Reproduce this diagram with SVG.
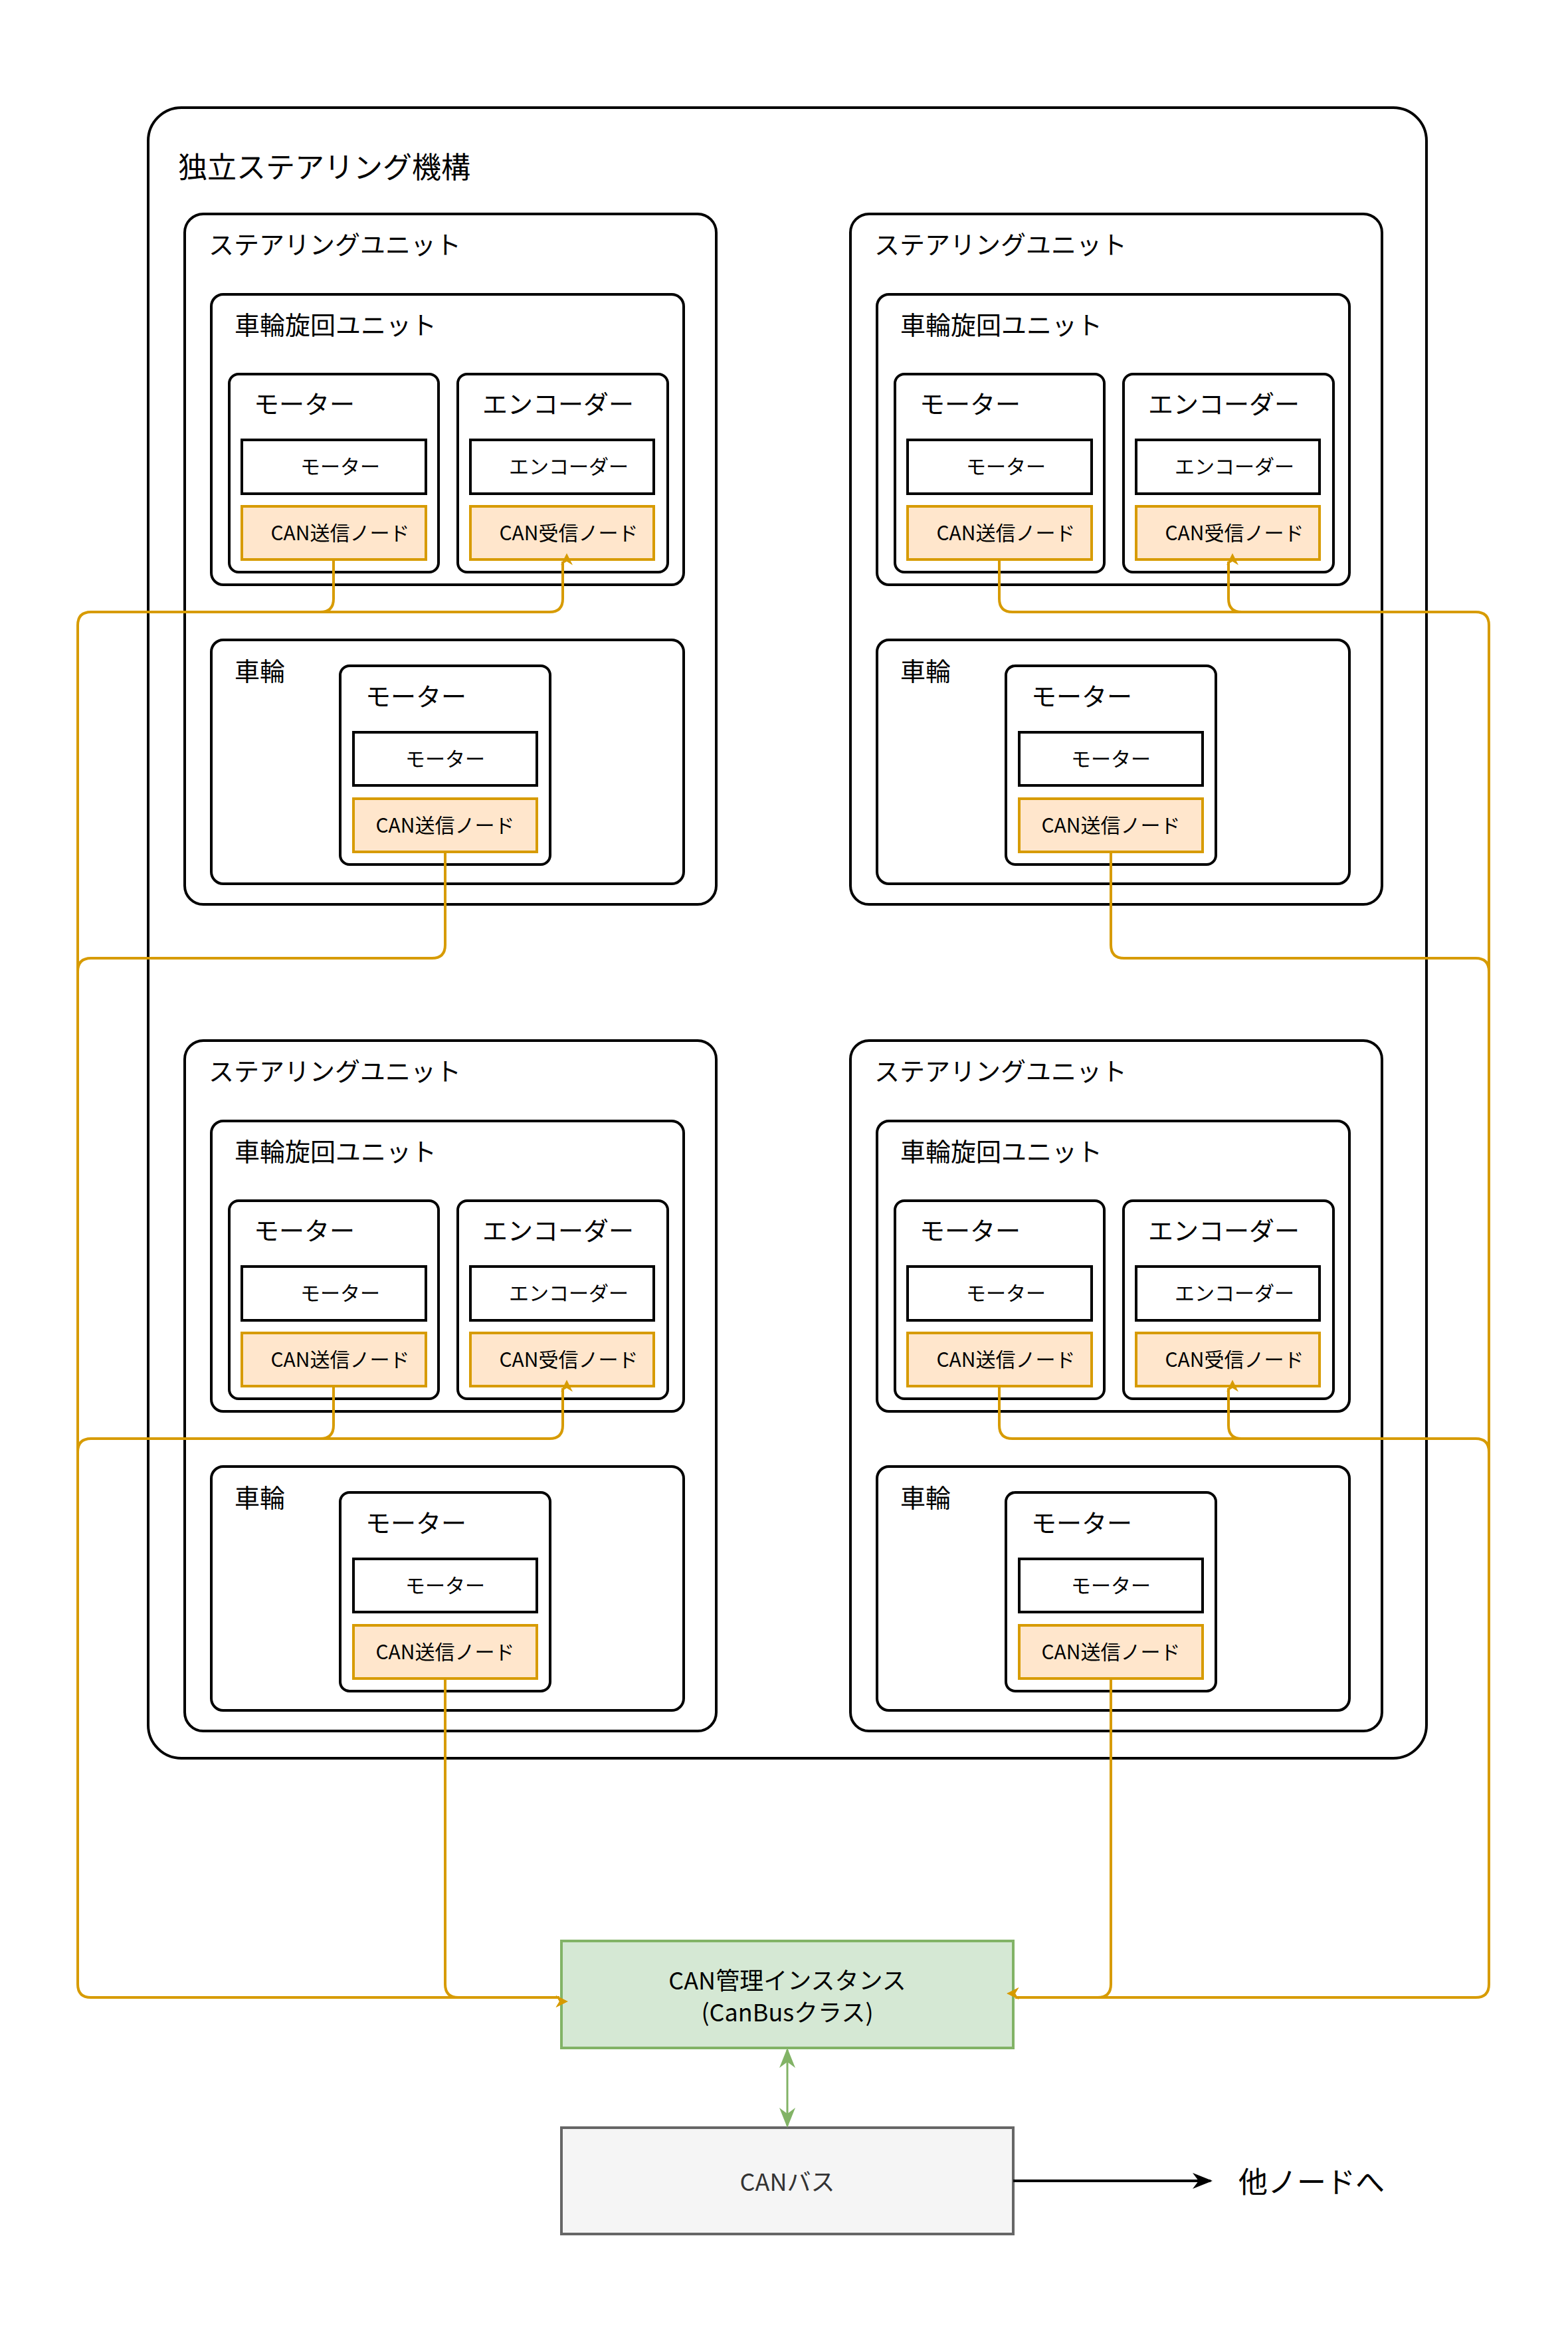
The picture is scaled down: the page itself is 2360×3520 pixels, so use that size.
<svg xmlns="http://www.w3.org/2000/svg" xmlns:xlink="http://www.w3.org/1999/xlink" width="2360" height="3520" viewBox="0 0 2360 3520">
<style>
text{font-family:"Noto Sans CJK JP","Liberation Sans",sans-serif;fill:#000}
.c{fill:#fff;stroke:#000;stroke-width:4}
.in{fill:#fff;stroke:#000;stroke-width:4}
.can{fill:#ffe6cc;stroke:#d79b00;stroke-width:4}
.lbl{font-size:38px}
.sm{font-size:30px;text-anchor:middle}
.y{fill:none;stroke:#d79b00;stroke-width:4}
</style>
<defs>
<marker id="ay" viewBox="0 0 10 10" refX="9" refY="5" markerWidth="6" markerHeight="6" orient="auto" markerUnits="userSpaceOnUse" style="overflow:visible"><path d="M0,0 L10,5 L0,10 L3,5 Z" fill="#d79b00" transform="scale(3)"/></marker>
<marker id="ag" viewBox="0 0 10 10" refX="9" refY="5" markerWidth="30" markerHeight="30" orient="auto-start-reverse" markerUnits="userSpaceOnUse"><path d="M0,1 L10,5 L0,9 L3,5 Z" fill="#82b366"/></marker>
<marker id="ab" viewBox="0 0 10 10" refX="9" refY="5" markerWidth="30" markerHeight="30" orient="auto" markerUnits="userSpaceOnUse"><path d="M0,1 L10,5 L0,9 L3,5 Z" fill="#000"/></marker>
<g id="unit">
<rect class="c" x="278" y="322" width="800" height="1039" rx="28"/>
<text class="lbl" x="314" y="382">ステアリングユニット</text>
<rect class="c" x="318" y="443" width="711" height="437" rx="18"/>
<text class="lbl" x="353" y="503">車輪旋回ユニット</text>
<rect class="c" x="345" y="563" width="315" height="298" rx="14"/>
<text class="lbl" x="382" y="622">モーター</text>
<rect class="in" x="364" y="662" width="277" height="81"/>
<text class="sm" x="512" y="713">モーター</text>
<rect class="can" x="364" y="762" width="277" height="80"/>
<text class="sm" x="512" y="813">CAN送信ノード</text>
<rect class="c" x="689" y="563" width="316" height="298" rx="14"/>
<text class="lbl" x="726" y="622">エンコーダー</text>
<rect class="in" x="708" y="662" width="276" height="81"/>
<text class="sm" x="856" y="713">エンコーダー</text>
<rect class="can" x="708" y="762" width="276" height="80"/>
<text class="sm" x="856" y="813">CAN受信ノード</text>
<rect class="c" x="318" y="963" width="711" height="367" rx="18"/>
<text class="lbl" x="353" y="1024">車輪</text>
<rect class="c" x="512" y="1002" width="316" height="299" rx="14"/>
<text class="lbl" x="550" y="1062">モーター</text>
<rect class="in" x="532" y="1102" width="276" height="80"/>
<text class="sm" x="670" y="1153">モーター</text>
<rect class="can" x="532" y="1202" width="276" height="80"/>
<text class="sm" x="670" y="1253">CAN送信ノード</text>
</g>
</defs>
<g id="mechanism">
<rect class="c" x="223" y="162" width="1924" height="2484" rx="50"/>
<text x="268" y="268" font-size="44">独立ステアリング機構</text>
</g>
<g id="unit-tl"><use xlink:href="#unit"/></g>
<g id="unit-tr"><use xlink:href="#unit" x="1002"/></g>
<g id="unit-bl"><use xlink:href="#unit" y="1244"/></g>
<g id="unit-br"><use xlink:href="#unit" x="1002" y="1244"/></g>
<g id="manager">
<rect x="845" y="2921" width="680" height="161" fill="#d5e8d4" stroke="#82b366" stroke-width="4"/>
<text x="1185" y="2994" font-size="36" text-anchor="middle">CAN管理インスタンス</text>
<text x="1185" y="3042" font-size="36" text-anchor="middle">(CanBusクラス)</text>
</g>
<g id="canbus">
<rect x="845" y="3202" width="680" height="160" fill="#f5f5f5" stroke="#666" stroke-width="4"/>
<text x="1185" y="3297" font-size="36" text-anchor="middle" fill="#333" style="fill:#333">CANバス</text>
</g>
<g id="other"><text x="1864" y="3300" font-size="44">他ノードへ</text></g>
<g id="connectors">
<path class="y" d="M502,842 V901 Q502,921 482,921 H137 Q117,921 117,941 V2986 Q117,3006 137,3006 H842" marker-end="url(#ay)"/>
<path class="y" d="M482,921 H827 Q847,921 847,901 V845" marker-end="url(#ay)"/>
<path class="y" d="M670,1282 V1422 Q670,1442 650,1442 H137 Q117,1442 117,1462"/>
<path class="y" d="M502,2086 V2145 Q502,2165 482,2165 H137 Q117,2165 117,2185"/>
<path class="y" d="M482,2165 H827 Q847,2165 847,2145 V2089" marker-end="url(#ay)"/>
<path class="y" d="M670,2526 V2986 Q670,3006 690,3006 H842" marker-end="url(#ay)"/>
<path class="y" d="M1504,842 V901 Q1504,921 1524,921 H2221 Q2241,921 2241,941 V2986 Q2241,3006 2221,3006 H1528" marker-end="url(#ay)"/>
<path class="y" d="M1524,921 H1869 Q1849,921 1849,901 V845" marker-end="url(#ay)"/>
<path class="y" d="M1672,1282 V1422 Q1672,1442 1692,1442 H2221 Q2241,1442 2241,1462"/>
<path class="y" d="M1504,2086 V2145 Q1504,2165 1524,2165 H2221 Q2241,2165 2241,2185"/>
<path class="y" d="M1524,2165 H1869 Q1849,2165 1849,2145 V2089" marker-end="url(#ay)"/>
<path class="y" d="M1672,2526 V2986 Q1672,3006 1652,3006 H1528" marker-end="url(#ay)"/>
<path d="M1185,3085 V3199" stroke="#82b366" stroke-width="3" fill="none" marker-start="url(#ag)" marker-end="url(#ag)"/>
<path d="M1525,3282 H1822" stroke="#000" stroke-width="4" fill="none" marker-end="url(#ab)"/>
</g>
</svg>
